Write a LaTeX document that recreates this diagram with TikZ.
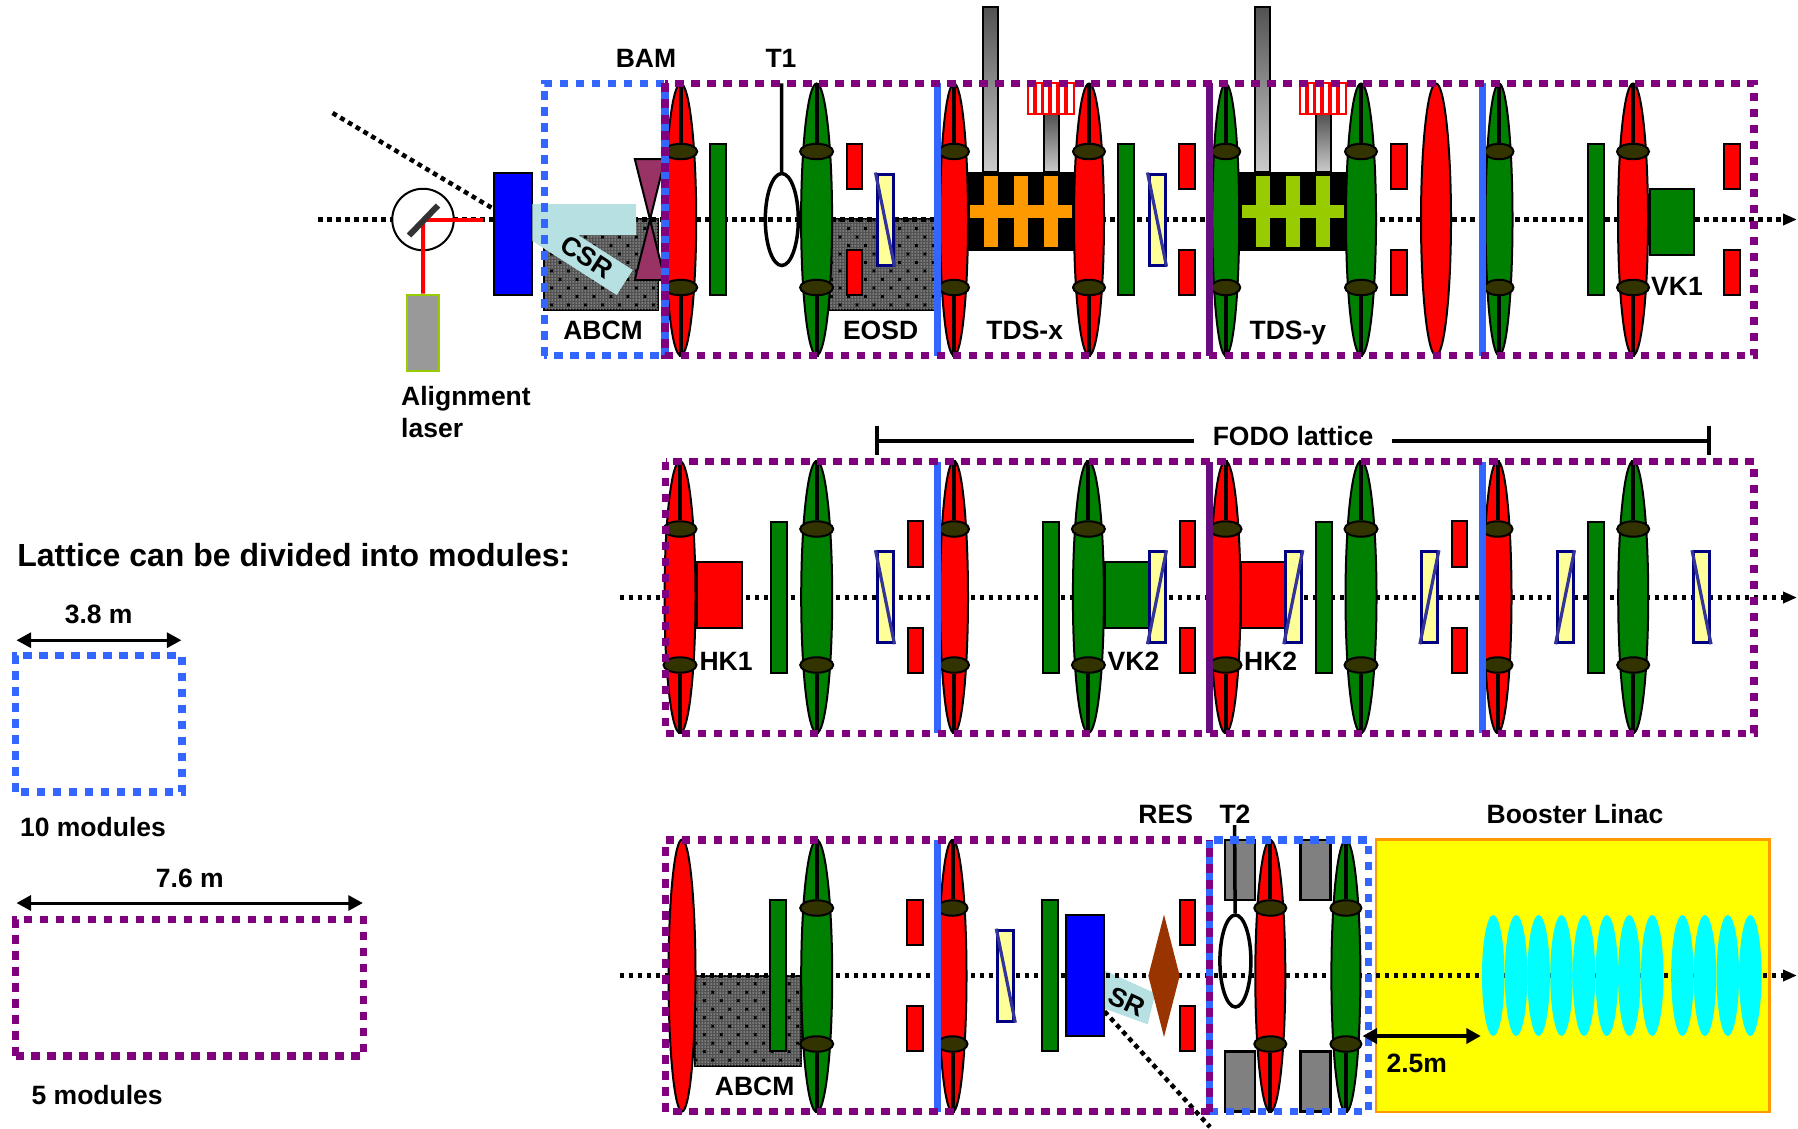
\documentclass[tikz,border=0pt]{standalone}
\usepackage{xcolor}
\usepackage{fontspec}
\setmainfont{Liberation Sans}
\usepackage{tikz}
\usetikzlibrary{shapes.geometric, arrows.meta, patterns.meta}

\definecolor{modblue}{HTML}{3366FF}
\definecolor{modpurple}{HTML}{800080}
\definecolor{deeppurple}{HTML}{660E7F}
\definecolor{lensgreen}{HTML}{008000}
\definecolor{capolive}{HTML}{333300}
\definecolor{skewyellow}{HTML}{FFFF99}
\definecolor{skewnavy}{HTML}{000080}
\definecolor{skewline}{HTML}{333399}
\definecolor{bandblue}{HTML}{B7E0E2}
\definecolor{bowtie}{HTML}{993366}
\definecolor{resbrown}{HTML}{993300}
\definecolor{limeedge}{HTML}{99CC00}
\definecolor{orangeedge}{HTML}{FF9900}
\definecolor{boosteryellow}{HTML}{FFFF00}
\definecolor{cavitycyan}{HTML}{00FFFF}

\newcommand{\quadlens}[5]{
  \node[lens, fill=#5, minimum width=#4pt] (#1) at (#2,#3) {};
  \node[lenscap, minimum width=#4pt+2pt] (#1t) at (#2,#3-68) {};
  \node[lenscap, minimum width=#4pt+2pt] (#1b) at (#2,#3+68) {};
  \draw[rod] (#1.north) -- (#1t);
  \draw[rod] (#1b) -- (#1.south);
}
\newcommand{\tdsunit}[3]{
  \node[guide, minimum width=15pt, minimum height=165pt] (#1a) at (#2+23.5,89.4) {};
  \node[guide, minimum width=15pt, minimum height=58pt] (#1b) at (#2+84.2,143) {};
  \node[tube] (#1t) at (#2+84.2,98.7) {};
  \foreach \k in {1,...,5}
    \draw[stripe] ([xshift={\k*7.75pt}]#1t.north west) -- ([xshift={\k*7.75pt}]#1t.south west);
  \node[block] (#1) at (#2+53.7,211.4) {};
  \fill[#3] (#2+2.7,205.3) rectangle (#2+104.7,218.3);
  \foreach \d in {23.8,54,84}
    \fill[#3] (#2+\d-7,175.7) rectangle (#2+\d+7,247.3);
}

\begin{document}
\begin{tikzpicture}[
    x=1pt, y=-1pt,
    lbl/.style={inner sep=0pt, font=\fontsize{26.5}{30}\selectfont\bfseries, text height=18.5pt, text depth=0pt},
    lens/.style={ellipse, draw, line width=2pt, inner sep=0pt, minimum height=272pt},
    lenscap/.style={ellipse, draw, line width=2pt, fill=capolive, inner sep=0pt, minimum height=15.5pt},
    rod/.style={line width=4pt},
    greenbar/.style={draw, line width=2pt, fill=lensgreen, inner sep=0pt, minimum width=16pt, minimum height=151pt},
    redbar/.style={draw, line width=2pt, fill=red, inner sep=0pt, minimum width=15.5pt, minimum height=45.5pt},
    skew/.style={draw=skewnavy, line width=3pt, fill=skewyellow, inner sep=0pt, minimum width=16pt, minimum height=91pt},
    skewdiag/.style={draw=skewline, line width=3.2pt},
    mag/.style={draw, line width=2pt, inner sep=0pt},
    hatch/.style={draw, line width=2pt, inner sep=0pt, fill=black!68,
      postaction={pattern={Dots[distance=3pt,radius=.75pt]}, pattern color=black!32},
      postaction={pattern={Stars[points=4,radius=2.4pt,distance=12pt,angle=45]}, pattern color=black}},
    axisline/.style={line width=4.5pt, dash pattern=on 4.8pt off 4.2pt},
    beamline/.style={axisline, -{Triangle[length=14pt,width=11pt]}},
    beam/.style={draw=red, line width=4pt},
    guide/.style={draw, line width=2pt, inner sep=0pt, top color=black!68, bottom color=black!20},
    tube/.style={draw=red, line width=2pt, fill=white, inner sep=0pt, minimum width=46.5pt, minimum height=30.7pt},
    stripe/.style={draw=red, line width=3.6pt},
    block/.style={fill=black, inner sep=0pt, minimum width=107.5pt, minimum height=78.7pt},
    screen/.style={ellipse, draw, line width=3.5pt, inner sep=0pt},
    modten/.style={draw=modblue, line width=7.5pt, dash pattern=on 8.5pt off 7.5pt},
    modfive/.style={draw=modpurple, line width=7.5pt, dash pattern=on 8.5pt off 7.5pt},
    cavity/.style={ellipse, fill=cavitycyan, inner sep=0pt, minimum width=22.5pt, minimum height=121pt},
    dim/.style={{Triangle[length=14.5pt,width=15pt]}-{Triangle[length=14.5pt,width=15pt]}, line width=3pt},
    span/.style={line width=4pt},
    tick/.style={line width=4pt},
  ]
  \useasboundingbox (0,0) rectangle (1798,1128);

  \node[hatch, minimum width=113.7pt, minimum height=90.7pt] (abcm) at (601.2,264.7) {};
  \node[hatch, minimum width=108pt, minimum height=90.7pt] (eosd) at (883,264.7) {};
  \coordinate (axastart) at (318,219.5);
  \coordinate (axaend) at (1797,219.5);
  \draw[beamline] (axastart) -- (axaend);
  \coordinate (tail) at (332.6,113);

  \node[circle, draw, line width=2pt, fill=white, inner sep=0pt, minimum size=61.5pt] (split) at (423,219.5) {};
  \node[draw=limeedge, line width=2pt, fill=black!40, inner sep=0pt, minimum width=31.5pt, minimum height=76pt] (laser) at (423.2,332.7) {};
  \coordinate (beamend) at (483,219.5);
  \draw[beam] (split.center) -- (beamend);
  \draw[beam] (split.center) -- (laser);
  \draw[line width=6pt, draw=black!80] ([shift={(-14,16)}]split.center) -- ([shift={(15,-14)}]split.center);
  \node[mag, fill=blue, minimum width=38pt, minimum height=122pt] (bma) at (512.5,234.3) {};
  \draw[axisline] (tail) -- ([yshift=26pt]bma.west);
  \fill[bandblue] (532.3,204) -- (636,204) -- (636,235) -- (578,235) -- (632.7,270) -- (616.7,295) -- (532.3,241) -- cycle;
  \node[lbl, rotate=-33] (csr) at (587.3,256.7) {CSR};
  \draw[line width=2pt, fill=bowtie] (634.8,159) -- (665,159) -- (650,219.5) -- (665,280) -- (634.8,280) -- (650,219.5) -- cycle;

  \quadlens{qa}{680.7}{219.5}{31}{red}
  \node[greenbar] (ga) at (718,219.5) {};
  \quadlens{qb}{816.6}{219.5}{31}{lensgreen}
  \node[screen, minimum width=33pt, minimum height=92pt] (scra) at (781.8,219.5) {};
  \foreach \x [count=\i] in {854.5,1187,1399,1732} {
    \node[redbar] (raa\i) at (\x,166.5) {};
    \node[redbar] (rab\i) at (\x,272.5) {};
  }
  \foreach \x/\a/\b [count=\i] in {885/north west/south east,1157/north west/south east} {
    \node[skew] (ska\i) at (\x,219.5) {};
    \draw[skewdiag] (ska\i.\a) -- (ska\i.\b);
  }
  \tdsunit{tdsx}{967}{orangeedge}
  \tdsunit{tdsy}{1239}{limeedge}
  \quadlens{qc}{954}{219.5}{28}{red}
  \quadlens{qd}{1089}{219.5}{30}{red}
  \node[greenbar] (gb) at (1126,219.5) {};
  \quadlens{qe}{1225.7}{219.5}{27}{lensgreen}
  \quadlens{qf}{1361}{219.5}{30}{lensgreen}
  \node[lens, fill=red, minimum width=30pt] (qg) at (1436,219.5) {};
  \quadlens{qh}{1499}{219.5}{27}{lensgreen}
  \node[greenbar] (gc) at (1595.5,219.5) {};
  \quadlens{qi}{1633}{219.5}{30}{red}
  \node[mag, fill=lensgreen, minimum width=44.8pt, minimum height=66.6pt] (vka) at (1672,222) {};

  \coordinate (toa) at (781.5,83.3);
  \draw[line width=3.5pt] (toa) -- (scra);

  \draw[modblue, line width=7pt] (937.5,83.3) -- (937.5,355.7);
  \draw[deeppurple, line width=7pt] (1209.5,83.3) -- (1209.5,355.7);
  \draw[modblue, line width=7pt] (1482,83.3) -- (1482,355.7);
  \draw[modten] (544.3,355.7) -- (544.3,83.3) -- (665,83.3) -- (665,355.7) -- cycle;
  \draw[modfive] (665,83.3) rectangle (1754,355.7);

  \node[lbl] (bam) at (646,58.7) {BAM};
  \node[lbl] (ta) at (781,58.7) {T1};
  \node[lbl] (abcmlbl) at (603,330.7) {ABCM};
  \node[lbl] (eosdlbl) at (880.6,330.7) {EOSD};
  \node[lbl] (tdsxlbl) at (1024.7,330.7) {TDS-x};
  \node[lbl] (tdsylbl) at (1287.9,330.7) {TDS-y};
  \node[lbl] (vkalbl) at (1677,286) {VK1};
  \node[inner sep=0pt, anchor=north west, align=left, font=\fontsize{26.5}{32.5}\selectfont\bfseries] (alignlbl) at (401,386) {Alignment\\laser};

  \node[lbl, fill=white, minimum width=197pt] (fodo) at (1293,436.7) {FODO lattice};
  \coordinate (fodol) at (876.8,440.7);
  \coordinate (fodor) at (1709,440.7);
  \draw[span] (fodol) -- (fodo.west |- fodol);
  \draw[span] (fodo.east |- fodor) -- (fodor);
  \draw[tick] (876.8,426) -- (fodol) -- (876.8,455);
  \draw[tick] (1709,426) -- (fodor) -- (1709,455);

  \coordinate (axbstart) at (619.6,597.5);
  \coordinate (axbend) at (1797,597.5);
  \draw[beamline] (axbstart) -- (axbend);
  \quadlens{qj}{680}{597}{31}{red}
  \node[mag, fill=red, minimum width=45pt, minimum height=66.4pt] (hka) at (719,595) {};
  \quadlens{qk}{816.7}{597}{31}{lensgreen}
  \quadlens{ql}{954}{597}{28}{red}
  \quadlens{qm}{1088.4}{597}{31}{lensgreen}
  \node[mag, fill=lensgreen, minimum width=44pt, minimum height=66.4pt] (vkb) at (1127,595) {};
  \quadlens{qn}{1225.5}{597}{30}{red}
  \node[mag, fill=red, minimum width=44pt, minimum height=66.4pt] (hkb) at (1263.3,595) {};
  \quadlens{qo}{1361}{597}{31}{lensgreen}
  \quadlens{qp}{1497.5}{597}{28}{red}
  \quadlens{qq}{1633.2}{597}{30}{lensgreen}
  \foreach \x [count=\i] in {779,1051,1323.5,1596} \node[greenbar] (gbar\i) at (\x,597) {};
  \foreach \x [count=\i] in {915.3,1187.5,1459.7} {
    \node[redbar] (rba\i) at (\x,544) {};
    \node[redbar] (rbb\i) at (\x,650.5) {};
  }
  \foreach \x/\a/\b [count=\i] in {885/north west/south east,1157/north east/south west,1293.3/north east/south west,1429.4/north east/south west,1565/north east/south west,1701.5/north west/south east} {
    \node[skew] (skb\i) at (\x,597.2) {};
    \draw[skewdiag] (skb\i.\a) -- (skb\i.\b);
  }
  \draw[modblue, line width=7pt] (937.5,461.7) -- (937.5,733.3);
  \draw[deeppurple, line width=7pt] (1209.5,461.7) -- (1209.5,733.3);
  \draw[modblue, line width=7pt] (1482,461.7) -- (1482,733.3);
  \draw[modfive] (665.5,461.7) rectangle (1754,733.3);
  \node[lbl] (hkalbl) at (726,661.7) {HK1};
  \node[lbl] (vkblbl) at (1133.5,661.7) {VK2};
  \node[lbl] (hkblbl) at (1270.7,661.7) {HK2};

  \node[draw=orangeedge, line width=2.5pt, fill=boosteryellow, inner sep=0pt, minimum width=393.5pt, minimum height=272.5pt] (booster) at (1572.5,975.6) {};
  \node[hatch, minimum width=106pt, minimum height=90.6pt] (abcmb) at (748.3,1021) {};
  \fill[bandblue] (1103.7,970) -- (1155.3,993.3) -- (1147.7,1024.3) -- (1103.7,1008.3) -- cycle;
  \coordinate (axcstart) at (619.6,975.5);
  \coordinate (axcend) at (1797,975.5);
  \draw[beamline] (axcstart) -- (axcend);
  \node[lens, fill=red, minimum width=27pt] (qr) at (682,975.5) {};
  \quadlens{qs}{816.7}{976}{31}{lensgreen}
  \quadlens{qt}{952.5}{976}{28}{red}
  \node[greenbar] (gd) at (778.4,975.3) {};
  \node[greenbar] (ge) at (1050.2,975.3) {};
  \foreach \x [count=\i] in {915,1187.3} {
    \node[redbar] (rca\i) at (\x,922.3) {};
    \node[redbar] (rcb\i) at (\x,1028.5) {};
  }
  \node[skew] (skc) at (1005.8,975.7) {};
  \draw[skewdiag] (skc.north west) -- (skc.south east);
  \node[mag, fill=blue, minimum width=38pt, minimum height=121pt] (bmb) at (1084.5,975.4) {};
  \node[lbl, rotate=-25] (srlbl) at (1126.6,1001.7) {SR};
  \coordinate (tailb) at (1210,1127);
  \draw[axisline] ([yshift=-36pt]bmb.east) -- (tailb);
  \node[diamond, fill=resbrown, inner sep=0pt, minimum width=31.5pt, minimum height=122.5pt] (res) at (1164,975.8) {};
  \foreach \x/\n in {1240/a,1315.6/b} {
    \node[mag, line width=2.5pt, fill=black!50, minimum width=30.2pt, minimum height=60pt] (stt\n) at (\x,870) {};
    \node[mag, line width=2.5pt, fill=black!50, minimum width=30.2pt, minimum height=60pt] (stb\n) at (\x,1081.7) {};
  }
  \quadlens{qu}{1270.3}{976}{30}{red}
  \quadlens{qv}{1345.9}{976}{29}{lensgreen}
  \node[screen, minimum width=31pt, minimum height=92pt] (scrb) at (1235.4,961) {};
  \coordinate (tob) at (1234.6,825);
  \draw[line width=3.5pt] (tob) -- (scrb);
  \foreach \x [count=\i] in {1493.2,1516.1,1538.6,1561.5,1584,1606.8,1629.3,1652.2,1682.4,1704.9,1727.8,1750.3}
    \node[cavity] (cav\i) at (\x,975.5) {};
  \draw[modblue, line width=7pt] (937.5,840) -- (937.5,1111.7);
  \draw[modten] (1209.4,840) rectangle (1368.4,1111.7);
  \draw[modfive] (1209.5,1111.7) -- (665.5,1111.7) -- (665.5,840) -- (1209.5,840);
  \draw[modfive, dash phase=8pt] (1209.5,840) -- (1209.5,1111.7);
  \coordinate (gapl) at (1362.5,1036);
  \coordinate (gapr) at (1480.8,1036);
  \draw[dim, line width=4pt] (gapl) -- (gapr);
  \node[lbl] (gaplbl) at (1416.8,1063.3) {2.5m};
  \node[lbl] (abcmblbl) at (754.7,1086.7) {ABCM};
  \node[lbl] (reslbl) at (1165.7,814.7) {RES};
  \node[lbl] (tb) at (1235,814.7) {T2};
  \node[lbl] (boosterlbl) at (1575,814.7) {Booster Linac};

  \node[lbl, anchor=west, font=\fontsize{32}{36}\selectfont\bfseries, text height=23pt] (title) at (17.2,555.3) {Lattice can be divided into modules:};
  \coordinate (dtl) at (16.5,640.2);
  \coordinate (dtr) at (181.4,640.2);
  \draw[dim] (dtl) -- (dtr);
  \node[lbl] (dtlbl) at (98.7,614.5) {3.8 m};
  \draw[modten] (15.7,791.8) -- (15.7,655.5) -- (182.2,655.5) -- (182.2,791.8) -- cycle;
  \node[lbl] (tenlbl) at (93,827.7) {10 modules};
  \coordinate (dfl) at (16.5,903);
  \coordinate (dfr) at (362.8,903);
  \draw[dim] (dfl) -- (dfr);
  \node[lbl] (dflbl) at (189.8,878) {7.6 m};
  \draw[modfive] (15.7,1055.8) -- (15.7,919.6) -- (363.6,919.6) -- (363.6,1055.8) -- cycle;
  \node[lbl] (fivelbl) at (97.2,1095) {5 modules};
\end{tikzpicture}
\end{document}
